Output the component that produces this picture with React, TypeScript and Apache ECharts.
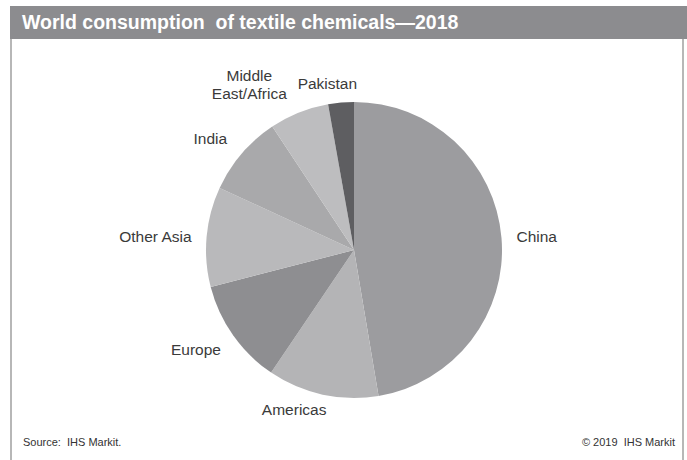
import React, { useEffect, useRef } from "react";
import * as echarts from "echarts";

const TITLE = "World consumption  of textile chemicals\u20142018";
const SOURCE = "Source:  IHS Markit.";
const COPYRIGHT = "\u00a9 2019  IHS Markit";

const regions = ["China", "Americas", "Europe", "Other Asia", "India", "Middle\nEast/Africa", "Pakistan"];
const shares = [47.3, 12.1, 11.5, 10.9, 8.8, 6.5, 2.8];
const colors = ["#9c9c9f", "#b4b4b6", "#8e8e91", "#b9b9bb", "#a9a9ab", "#bdbdbf", "#5e5e61"];

const FONT = "'Liberation Sans', Arial, sans-serif";

// small per-label nudges (dx, dy) applied after the pie's own outside layout
const labelNudges: [number, number][] = [
  [0, 0],
  [11, 5],
  [1, 8],
  [0, 1],
  [-2, -9],
  [2, -4],
  [4, -6],
];

export default function App() {
  const ref = useRef<HTMLDivElement>(null);
  useEffect(() => {
    document.body.style.margin = "0";
    const chart = echarts.init(ref.current!, null, { renderer: "svg" });
    chart.setOption({
      animation: false,
      backgroundColor: "#ffffff",
      graphic: [
        {
          type: "rect",
          shape: { x: 11, y: 38, width: 672, height: 440 },
          style: { fill: "none", stroke: "#a0a0a0", lineWidth: 1.5 },
          z: 1,
        },
        {
          type: "rect",
          shape: { x: 10, y: 6, width: 677, height: 33 },
          style: { fill: "#8c8c8f" },
          z: 2,
        },
        {
          type: "text",
          x: 22,
          y: 22,
          style: {
            text: TITLE,
            fill: "#ffffff",
            font: `bold 19.5px ${FONT}`,
            verticalAlign: "middle",
          },
          z: 3,
        },
        {
          type: "text",
          x: 23,
          y: 442,
          style: { text: SOURCE, fill: "#333333", font: `11px ${FONT}`, verticalAlign: "middle" },
        },
        {
          type: "text",
          x: 675,
          y: 442,
          style: { text: COPYRIGHT, fill: "#333333", font: `11px ${FONT}`, align: "right", verticalAlign: "middle" },
        },
      ],
      series: [
        {
          type: "pie",
          center: [354, 250],
          radius: 148,
          startAngle: 90,
          clockwise: true,
          avoidLabelOverlap: false,
          data: regions.map((name, i) => ({ name, value: shares[i], itemStyle: { color: colors[i] } })),
          itemStyle: { borderWidth: 0 },
          label: {
            show: true,
            position: "outside",
            formatter: "{b}",
            color: "#3a3a3a",
            fontFamily: FONT,
            fontSize: 15.5,
            lineHeight: 18,
            distanceToLabelLine: 5,
          },
          labelLine: { show: false, length: 10, length2: 0 },
          labelLayout: (p: any) => {
            const [dx, dy] = labelNudges[p.dataIndex] || [0, 0];
            if (p.dataIndex === 5) return { align: "center", dx: -43 + dx, dy: -15 + dy };
            if (p.dataIndex === 6) return { dx: 18 + dx, dy: -3 + dy };
            return { dx, dy };
          },
          emphasis: { disabled: true },
        },
      ],
    });
    return () => chart.dispose();
  }, []);
  return <div ref={ref} style={{ position: "absolute", left: 0, top: 0, width: 687, height: 460 }} />;
}
